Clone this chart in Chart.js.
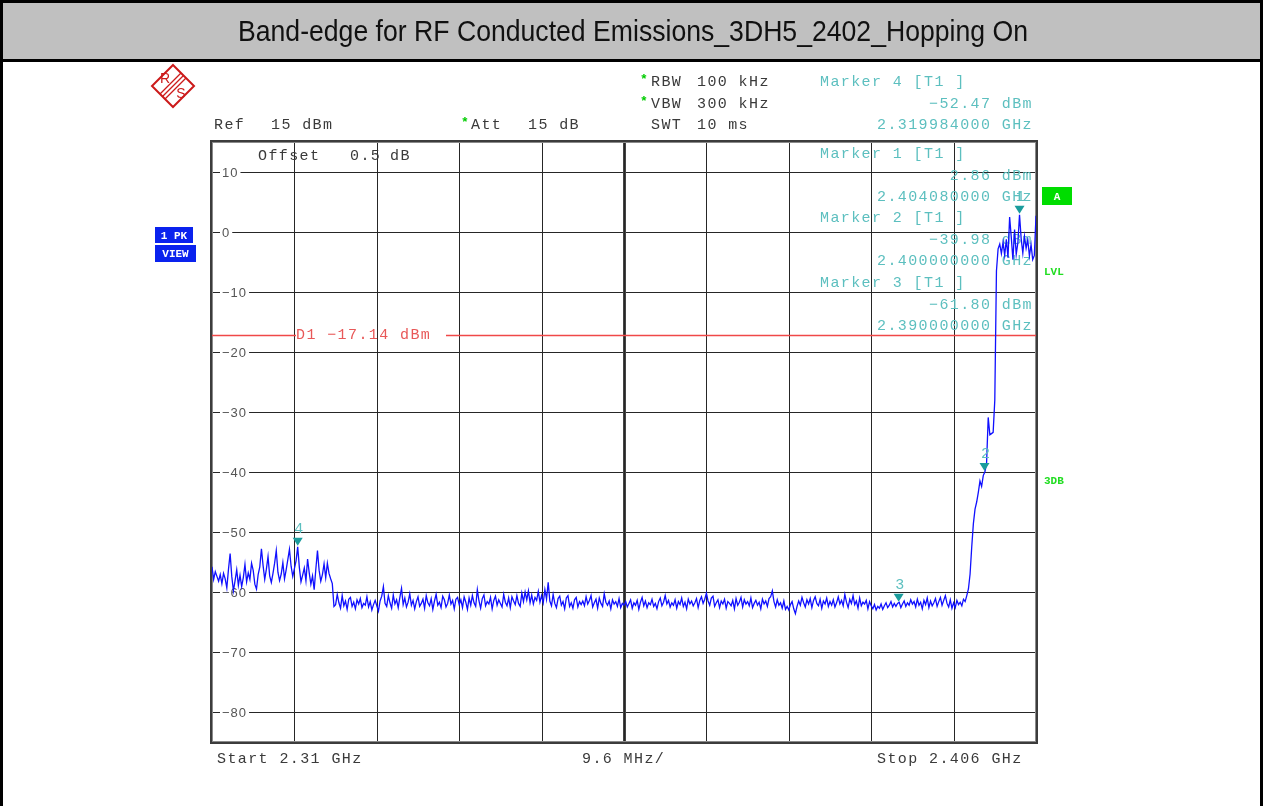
<!DOCTYPE html>
<html lang="en">
<head>
  <meta charset="UTF-8" />
  <title>Band-edge 3DH5 2402 Hopping On</title>
  <script src="https://cdn.jsdelivr.net/npm/chart.js"></script>
  <style>
    body {
      margin: 0;
      background: #fff;
    }
    .wrap {
      position: relative;
      width: 1263px;
      height: 806px;
    }
  </style>
</head>
<body>
  <div class="wrap"><canvas id="sa"></canvas></div>

  <script>
    // sweep settings (MHz / dBm)
    const startMHz = 2310;
    const stopMHz = 2406;
    const sweepPoints = 501;
    const refLevel = 15;
    const bottomLevel = -85;
    const gridLevels = [10, 0, -10, -20, -30, -40, -50, -60, -70, -80];
    const displayLine = -17.14;

    // trace 1, max peak (501 sweep points)
    const levels = [
      -55.8, -57.9, -56.6, -57.4, -58.2, -57.1, -58.6, -56.9, -57.8, -59.3, -56.2, -53.6, -57.4, -59.8, -58.1, -56.3, -58.9, -57.2, -59.1, -57.6, -55.4, -58.3, -56.8, -57.9, -55.2,
      -56.4, -58.7, -59.5, -57.1, -55.8, -52.8, -55.6, -57.9, -56.2, -54.1, -57.3, -58.4, -56.9, -55.2, -53.1, -56.7, -58.1, -57.0, -55.1, -57.8, -56.3, -54.6, -52.9, -55.7, -57.4,
      -56.1, -54.8, -52.47, -55.9, -58.3, -57.2, -56.0, -58.1, -54.5, -56.8, -58.7, -57.3, -59.6, -56.2, -53.1, -56.4, -58.2, -57.1, -55.3, -57.6, -55.2, -56.9, -57.8, -58.6, -62.4,
      -62.1, -60.4, -61.8, -62.7, -60.6, -62.3, -61.5, -62.9, -61.2, -60.9, -62.4, -61.7, -62.8, -61.3, -62.0, -61.1, -62.6, -61.9, -62.2, -60.8, -62.5, -61.6, -63.0, -62.1, -61.4,
      -62.3, -63.2, -61.5, -60.7, -59.1, -61.9, -62.4, -60.6, -61.8, -62.7, -60.5, -62.0, -61.3, -62.6, -60.9, -59.4, -62.1, -61.0, -62.5, -61.7, -60.3, -62.2, -61.4, -62.8, -61.6,
      -60.8, -62.4, -61.9, -61.2, -62.7, -60.6, -61.8, -62.3, -61.1, -62.9, -61.5, -60.4, -62.2, -61.7, -62.6, -60.7, -61.3, -62.5, -61.9, -60.5, -62.0, -61.4, -62.8, -61.2, -60.9,
      -62.1, -61.3, -62.6, -60.8, -61.7, -62.9, -61.0, -62.2, -60.6, -61.8, -62.4, -59.6, -61.5, -62.7, -61.1, -60.5, -62.3, -61.6, -62.0, -60.9, -62.8, -61.4, -60.7, -62.2, -61.3,
      -61.9, -62.5, -60.4, -61.7, -62.3, -61.0, -62.6, -60.8, -61.5, -62.1, -60.6, -61.9, -62.4, -60.2, -61.6, -60.0, -61.3, -59.8, -61.8, -60.5, -62.0, -60.9, -61.4, -59.9, -61.7,
      -60.6, -61.8, -59.6, -61.2, -58.4, -61.5, -62.3, -60.4, -61.9, -62.6, -61.1, -60.7, -62.2, -61.6, -62.8, -61.0, -60.6, -62.4, -61.8, -62.7, -61.3, -60.9, -62.5, -61.6, -62.1,
      -61.5, -62.3, -60.8, -62.0, -61.4, -60.6, -62.5, -61.8, -61.2, -62.7, -61.0, -61.9, -62.4, -60.3, -61.7, -62.2, -61.5, -62.8, -61.3, -62.0, -61.6, -62.4, -61.1, -62.6, -61.9,
      -62.2, -61.6, -62.5, -61.9, -61.3, -62.7, -61.8, -62.2, -61.4, -62.9, -61.7, -60.9, -62.3, -61.5, -62.6, -61.8, -62.1, -61.2, -62.4, -61.9, -62.8, -61.6, -61.0, -62.3, -61.7,
      -60.6, -62.0, -61.4, -62.5, -61.8, -62.2, -61.3, -62.7, -61.6, -62.1, -61.0, -62.4, -61.7, -62.8, -61.2, -62.0, -61.5, -62.3, -61.8, -61.1, -62.6, -61.4, -60.8, -61.9, -61.2,
      -60.2, -61.5, -62.2, -61.0, -60.7, -62.4, -61.8, -61.3, -62.6, -61.5, -62.0, -61.2, -62.7, -61.6, -61.9, -62.3, -61.4, -62.8, -61.1, -62.2, -61.7, -60.9, -62.5, -61.3, -62.0,
      -61.6, -62.3, -61.0, -62.6, -61.9, -61.4, -62.2, -61.7, -62.8, -61.2, -62.0, -61.5, -62.4, -61.1, -60.8, -59.8, -61.6, -62.5, -61.3, -62.2, -61.8, -62.7, -61.5, -62.9, -62.4,
      -63.0, -62.1, -61.6, -62.8, -63.6, -62.4, -61.5, -62.2, -60.9, -61.8, -62.5, -61.3, -62.0, -61.1, -62.6, -61.4, -60.8, -61.9, -62.3, -61.2, -62.7, -61.5, -62.0, -61.0, -62.4,
      -61.6, -62.2, -61.3, -62.5, -61.8, -60.8, -62.0, -61.4, -62.3, -60.4, -61.7, -62.6, -61.2, -61.9, -60.6, -62.1, -61.5, -62.7, -61.0, -62.3, -61.7, -62.0, -61.4, -62.8, -61.6,
      -62.3, -62.8, -62.1, -63.0, -62.4, -62.7, -62.0, -62.9, -62.3, -61.8, -62.6, -62.2, -61.6, -62.5, -61.9, -62.4, -61.9, -61.7, -62.6, -62.0, -61.5, -62.4, -61.8, -62.2, -61.3,
      -62.0, -61.6, -62.5, -61.2, -62.2, -61.7, -62.8, -61.4, -62.1, -61.0, -62.6, -61.5, -62.3, -61.8, -61.1, -62.4, -61.6, -60.9, -62.2, -61.4, -60.6, -61.9, -62.5, -61.3, -62.7,
      -61.8, -62.6, -61.4, -62.1, -61.7, -62.3, -61.2, -61.6, -60.6, -59.5, -57.0, -52.5, -48.6, -46.2, -45.0, -43.4, -41.5, -42.4, -40.6, -39.98, -38.6, -30.9, -33.8, -33.6, -33.4,
      -28.0, -6.5, -2.8, -2.0, -3.6, -1.7, -3.9, -1.2, -4.3, 2.5, -0.9, -4.6, 0.4, -3.7, -1.8, 2.86, -1.1, -3.5, -0.7, -2.7, -1.3, -4.0, -2.1, -4.6, -3.9,
      2.7
    ];

    // markers
    const markerNames = ['1', '2', '3', '4'];
    const markerFreqs = [2404.08, 2400.0, 2390.0, 2319.984];
    const markerLevels = [2.86, -39.98, -61.80, -52.47];
    const markerFreqText = ['2.404080000 GHz', '2.400000000 GHz', '2.390000000 GHz', '2.319984000 GHz'];

    const stepMHz = (stopMHz - startMHz) / (sweepPoints - 1);
    const divMHz = (stopMHz - startMHz) / 10;
    const freqs = levels.map((_, i) => startMHz + i * stepMHz);

    const MONO = '"Liberation Mono", "DejaVu Sans Mono", monospace';
    const TEAL = '#5cbfbf';

    function mono(ctx, text, x, y, color, align) {
      ctx.font = '15px ' + MONO;
      ctx.letterSpacing = '1.4px';
      ctx.fillStyle = color;
      ctx.textAlign = align || 'left';
      ctx.textBaseline = 'middle';
      ctx.fillText(text, x, y);
      ctx.letterSpacing = '0px';
    }

    function star(ctx, x, y) {
      ctx.font = 'bold 13px ' + MONO;
      ctx.fillStyle = '#00cc00';
      ctx.textAlign = 'left';
      ctx.textBaseline = 'middle';
      ctx.fillText('*', x, y);
    }

    function dbText(v) {
      return (v < 0 ? '\u2212' : '') + Math.abs(v).toFixed(2) + ' dBm';
    }

    function logo(ctx) {
      const cx = 173, cy = 86, r = 21;
      ctx.save();
      ctx.strokeStyle = '#cc1a1a';
      ctx.fillStyle = '#cc1a1a';
      ctx.lineWidth = 2;
      ctx.beginPath();
      ctx.moveTo(cx, cy - r);
      ctx.lineTo(cx + r, cy);
      ctx.lineTo(cx, cy + r);
      ctx.lineTo(cx - r, cy);
      ctx.closePath();
      ctx.stroke();
      ctx.lineWidth = 1.3;
      [-2.5, 0, 2.5].forEach(d => {
        ctx.beginPath();
        ctx.moveTo(cx + r / 2 + d, cy - r / 2 + d);
        ctx.lineTo(cx - r / 2 + d, cy + r / 2 + d);
        ctx.stroke();
      });
      ctx.font = '14px "Liberation Sans", Arial, sans-serif';
      ctx.textAlign = 'center';
      ctx.textBaseline = 'middle';
      ctx.fillText('R', cx - 8, cy - 7);
      ctx.fillText('S', cx + 8, cy + 8);
      ctx.restore();
    }

    function labelBox(ctx, text, x, y, w, h, bg, fg) {
      ctx.fillStyle = bg;
      ctx.fillRect(x, y, w, h);
      ctx.font = 'bold 11px ' + MONO;
      ctx.fillStyle = fg;
      ctx.textAlign = 'center';
      ctx.textBaseline = 'middle';
      ctx.fillText(text, x + w / 2, y + h / 2 + 1);
    }

    // screen furniture, grid and annotations under the trace
    const screenPlugin = {
      id: 'screen',
      beforeDatasetsDraw(chart) {
        const ctx = chart.ctx;
        const a = chart.chartArea;
        const xs = chart.scales.x;
        const ys = chart.scales.y;
        ctx.save();

        // page frame and title bar
        ctx.fillStyle = '#fff';
        ctx.fillRect(0, 0, chart.width, chart.height);
        ctx.fillStyle = '#c0c0c0';
        ctx.fillRect(0, 0, chart.width, 61);
        ctx.fillStyle = '#000';
        ctx.fillRect(0, 0, chart.width, 3);
        ctx.fillRect(0, 59, chart.width, 3);
        ctx.fillRect(0, 0, 3, chart.height);
        ctx.fillRect(chart.width - 3, 0, 3, chart.height);

        const title = 'Band-edge for RF Conducted Emissions_3DH5_2402_Hopping On';
        ctx.font = '29px "Liberation Sans", Arial, sans-serif';
        ctx.textBaseline = 'middle';
        ctx.textAlign = 'center';
        const tw = ctx.measureText(title).width;
        ctx.save();
        ctx.translate(633, 33);
        ctx.scale(790 / tw, 1);
        ctx.fillStyle = '#111';
        ctx.fillText(title, 0, 0);
        ctx.restore();

        logo(ctx);

        // setting lines above the grid
        const DARK = '#3a3a3a';
        mono(ctx, 'Ref', 214, 125, DARK);
        mono(ctx, '15 dBm', 271, 125, DARK);
        star(ctx, 461, 123);
        mono(ctx, 'Att', 471, 125, DARK);
        mono(ctx, '15 dB', 528, 125, DARK);
        star(ctx, 640, 80);
        mono(ctx, 'RBW', 651, 82, DARK);
        mono(ctx, '100 kHz', 697, 82, DARK);
        star(ctx, 640, 102);
        mono(ctx, 'VBW', 651, 104, DARK);
        mono(ctx, '300 kHz', 697, 104, DARK);
        mono(ctx, 'SWT', 651, 125, DARK);
        mono(ctx, '10 ms', 697, 125, DARK);

        mono(ctx, 'Start 2.31 GHz', 217, 759, DARK);
        mono(ctx, '9.6 MHz/', 582, 759, DARK);
        mono(ctx, 'Stop 2.406 GHz', 877, 759, DARK);

        labelBox(ctx, '1 PK', 155, 227, 38, 16, '#0a22ee', '#fff');
        labelBox(ctx, 'VIEW', 155, 245, 41, 17, '#0a22ee', '#fff');
        labelBox(ctx, 'A', 1042, 187, 30, 18, '#00dd00', '#fff');
        ctx.font = 'bold 11px ' + MONO;
        ctx.fillStyle = '#22dd22';
        ctx.textAlign = 'left';
        ctx.fillText('LVL', 1044, 272);
        ctx.fillText('3DB', 1044, 481);

        // graticule
        ctx.strokeStyle = '#262626';
        ctx.lineWidth = 1;
        gridLevels.forEach(l => {
          const y = Math.round(ys.getPixelForValue(l)) + 0.5;
          ctx.beginPath();
          ctx.moveTo(a.left, y);
          ctx.lineTo(a.right, y);
          ctx.stroke();
        });
        for (let k = 1; k < 10; k++) {
          const x = Math.round(xs.getPixelForValue(startMHz + k * divMHz)) + 0.5;
          ctx.beginPath();
          ctx.moveTo(x, a.top);
          ctx.lineTo(x, a.bottom);
          ctx.stroke();
        }
        const cx = Math.round(xs.getPixelForValue(startMHz + 5 * divMHz));
        ctx.fillStyle = '#444';
        ctx.fillRect(cx - 1, a.top, 1, a.bottom - a.top);
        ctx.fillRect(cx + 1, a.top, 1, a.bottom - a.top);

        ctx.strokeStyle = '#3c3c3c';
        ctx.lineWidth = 1;
        ctx.strokeRect(a.left - 1.5, a.top - 1.5, a.right - a.left + 3, a.bottom - a.top + 3);
        ctx.strokeStyle = '#8a8a8a';
        ctx.strokeRect(a.left + 0.5, a.top + 0.5, a.right - a.left - 1, a.bottom - a.top - 1);
        ctx.strokeStyle = '#3c3c3c';
        ctx.strokeRect(a.left - 0.5, a.top - 0.5, a.right - a.left + 1, a.bottom - a.top + 1);

        // level labels cut into the grid lines
        ctx.font = '13px "Liberation Sans", Arial, sans-serif';
        ctx.letterSpacing = '1px';
        ctx.textAlign = 'left';
        ctx.textBaseline = 'middle';
        gridLevels.forEach(l => {
          const y = Math.round(ys.getPixelForValue(l)) + 0.5;
          const t = l < 0 ? '\u2212' + Math.abs(l) : String(l);
          const w = ctx.measureText(t).width;
          ctx.fillStyle = '#fff';
          ctx.fillRect(a.left + 8, y - 2, w + 4, 4);
          ctx.fillStyle = '#555';
          ctx.fillText(t, a.left + 10, y + 1);
        });
        ctx.letterSpacing = '0px';

        // display line D1
        const dy = Math.round(ys.getPixelForValue(displayLine)) + 0.5;
        const lx = Math.round(xs.getPixelForValue(startMHz + divMHz)) + 2;
        ctx.strokeStyle = '#f04848';
        ctx.lineWidth = 1.3;
        ctx.beginPath();
        ctx.moveTo(a.left, dy);
        ctx.lineTo(lx, dy);
        ctx.moveTo(lx + 150, dy);
        ctx.lineTo(a.right, dy);
        ctx.stroke();
        mono(ctx, 'D1 \u221217.14 dBm', lx, dy, '#e85858');

        // marker read-outs
        mono(ctx, 'Offset', 258, 156, DARK);
        mono(ctx, '0.5', 350, 156, DARK);
        mono(ctx, 'dB', 390, 156, DARK);

        const blocks = [[3, 82], [0, 154], [1, 218], [2, 283]];
        blocks.forEach(([m, y]) => {
          mono(ctx, 'Marker ' + markerNames[m] + ' [T1 ]', 820, y, TEAL);
          mono(ctx, dbText(markerLevels[m]), 1033, y + 22, TEAL, 'right');
          mono(ctx, markerFreqText[m], 1033, y + 43, TEAL, 'right');
        });

        ctx.restore();
      },
      afterDatasetsDraw(chart) {
        const ctx = chart.ctx;
        const xs = chart.scales.x;
        const ys = chart.scales.y;
        ctx.save();
        markerFreqs.forEach((f, i) => {
          const x = xs.getPixelForValue(f);
          const y = ys.getPixelForValue(markerLevels[i]);
          ctx.fillStyle = '#1a9c9c';
          ctx.beginPath();
          ctx.moveTo(x - 5, y - 9);
          ctx.lineTo(x + 5, y - 9);
          ctx.lineTo(x, y - 1);
          ctx.closePath();
          ctx.fill();
          ctx.font = '15px ' + MONO;
          ctx.fillStyle = TEAL;
          ctx.textAlign = 'center';
          ctx.textBaseline = 'middle';
          ctx.fillText(markerNames[i], x + 1, y - 18);
        });
        ctx.restore();
      }
    };

    new Chart(document.getElementById('sa'), {
      type: 'line',
      data: {
        datasets: [{
          label: 'Trace 1',
          data: levels.map((v, i) => ({ x: freqs[i], y: v })),
          borderColor: '#1010ff',
          borderWidth: 1.3,
          pointRadius: 0,
          tension: 0,
          fill: false
        }]
      },
      options: {
        responsive: true,
        maintainAspectRatio: false,
        animation: false,
        layout: { padding: { left: 212, top: 142, right: 227, bottom: 64 } },
        plugins: {
          legend: { display: false },
          tooltip: { enabled: false }
        },
        scales: {
          x: { type: 'linear', min: startMHz, max: stopMHz, display: false },
          y: { min: bottomLevel, max: refLevel, display: false }
        }
      },
      plugins: [screenPlugin]
    });
  </script>
</body>
</html>
